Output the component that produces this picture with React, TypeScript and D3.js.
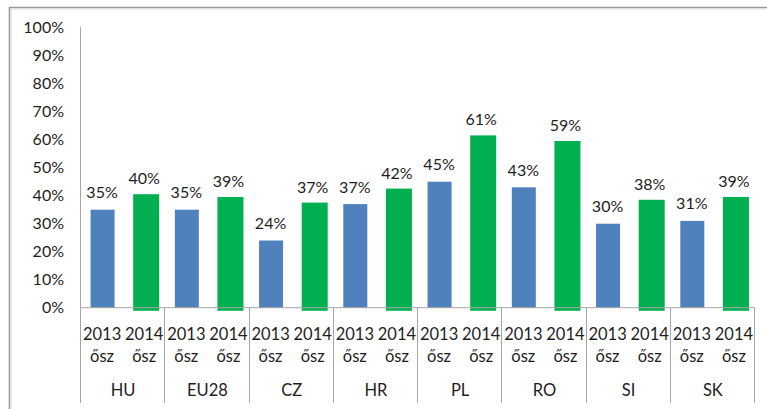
import React from "react";
import * as d3 from "d3";

const countries = ["HU", "EU28", "CZ", "HR", "PL", "RO", "SI", "SK"];
const periods = ["2013\nősz", "2014\nősz"];
const values2013 = [35, 35, 24, 37, 45, 43, 30, 31];
const values2014 = [40, 39, 37, 42, 61, 59, 38, 39];
const yTicks = [0, 10, 20, 30, 40, 50, 60, 70, 80, 90, 100];

const W = 767;
const H = 409;
const FONT = "Lato, 'Open Sans', sans-serif";
const TEXT = "#1e1e1e";
const AXIS = "#a6a6a6";
const BLUE = "#4f81bd";
const GREEN = "#00b050";

export default function App() {
  const x0 = d3.scaleBand<string>().domain(countries).range([80, 754]).padding(0);
  const x1 = d3.scaleBand<string>().domain(periods).range([0, x0.bandwidth()]).padding(0);
  const y = d3.scaleLinear().domain([0, 100]).range([307.7, 27.7]);

  const series = [
    { key: periods[0], vals: values2013, color: BLUE, w: 24, dx: 1.5, top: 0, bottom: 0 },
    { key: periods[1], vals: values2014, color: GREEN, w: 26, dx: 3, top: 1.5, bottom: -1.1 },
  ];

  return (
    <svg
      width={W}
      height={H}
      style={{ position: "absolute", left: 0, top: 0, background: "#fff" }}
      fontFamily={FONT}
    >
      {/* outer frame */}
      <path d={`M9.5,${H + 5} V7.5 H${W + 5}`} fill="none" stroke="#9a9a9a" strokeWidth={1.6} />
      <path d={`M11,${H + 5} V9 H${W + 5}`} fill="none" stroke="#dedede" strokeWidth={1} />

      {/* y tick labels */}
      {yTicks.map((t) => (
        <text
          key={t}
          x={64}
          y={y(t)}
          dy="0.35em"
          textAnchor="end"
          fontSize={16}
          fill={TEXT}
        >
          {t}%
        </text>
      ))}

      {/* bars */}
      {series.map((s) =>
        countries.map((c, i) => {
          const cx = (x0(c) as number) + (x1(s.key) as number) + x1.bandwidth() / 2 + s.dx;
          const yt = y(s.vals[i] + s.top / 2.8);
          const yb = y(s.bottom);
          return (
            <rect
              key={s.key + c}
              x={cx - s.w / 2}
              y={yt}
              width={s.w}
              height={yb - yt}
              fill={s.color}
            />
          );
        })
      )}

      {/* data labels */}
      {series.map((s) =>
        countries.map((c, i) => {
          const cx = (x0(c) as number) + (x1(s.key) as number) + x1.bandwidth() / 2 + 1;
          return (
            <text
              key={"l" + s.key + c}
              x={cx}
              y={y(s.vals[i]) - 11.5}
              textAnchor="middle"
              fontSize={16}
              fill={TEXT}
            >
              {s.vals[i]}%
            </text>
          );
        })
      )}

      {/* axes lines */}
      <line x1={80.5} x2={80.5} y1={27} y2={403} stroke={AXIS} strokeWidth={1} />
      <line x1={80} x2={754.5} y1={307.7} y2={307.7} stroke={AXIS} strokeWidth={1} />
      {countries.map((c) => {
        const xr = (x0(c) as number) + x0.bandwidth();
        return (
          <line
            key={"t" + c}
            x1={Math.round(xr) + 0.5}
            x2={Math.round(xr) + 0.5}
            y1={307.7}
            y2={403}
            stroke={AXIS}
            strokeWidth={1}
          />
        );
      })}

      {/* category labels */}
      {countries.map((c) => (
        <g key={"c" + c}>
          {periods.map((p) => {
            const cx = (x0(c) as number) + (x1(p) as number) + x1.bandwidth() / 2 + 1;
            const [yr, sz] = p.split("\n");
            return (
              <g key={p}>
                <text x={cx} y={340} textAnchor="middle" fontSize={16.5} fill={TEXT}>
                  {yr}
                </text>
                <text x={cx} y={361.5} textAnchor="middle" fontSize={16.5} fill={TEXT}>
                  {sz}
                </text>
              </g>
            );
          })}
          <text
            x={(x0(c) as number) + x0.bandwidth() / 2 + 1}
            y={396}
            textAnchor="middle"
            fontSize={16.5}
            fill={TEXT}
          >
            {c}
          </text>
        </g>
      ))}
    </svg>
  );
}
